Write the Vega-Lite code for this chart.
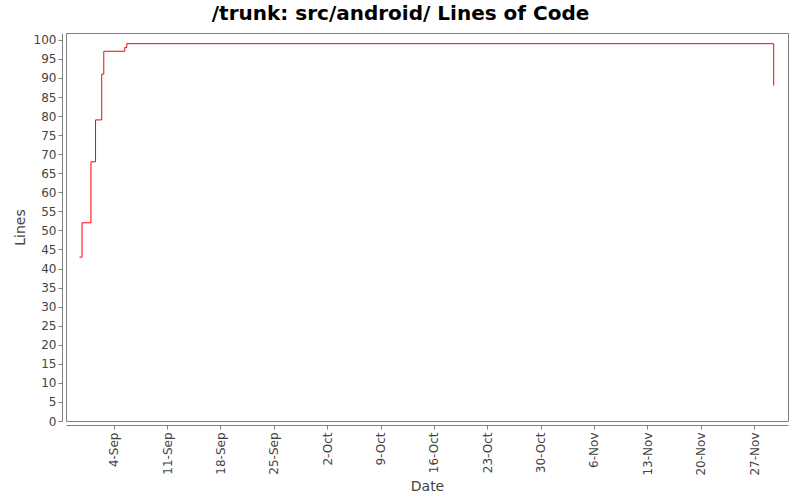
{
  "$schema": "https://vega.github.io/schema/vega-lite/v6.json",
  "width": 722,
  "height": 388,
  "autosize": {"type": "none"},
  "padding": {"left": 66, "top": 33, "right": 12, "bottom": 79},
  "background": "white",
  "title": {
    "text": "/trunk: src/android/ Lines of Code",
    "font": "DejaVu Sans",
    "fontSize": 20,
    "fontWeight": "bold",
    "color": "#000000",
    "anchor": "middle",
    "frame": "bounds",
    "offset": 9
  },
  "config": {
    "view": {"stroke": "#808080", "strokeWidth": 1},
    "axis": {
      "labelFont": "DejaVu Sans",
      "labelFontSize": 12,
      "labelColor": "#444444",
      "titleFont": "DejaVu Sans",
      "titleFontSize": 14,
      "titleFontWeight": "normal",
      "titleColor": "#444444",
      "domainColor": "#808080",
      "tickColor": "#808080",
      "grid": false,
      "offset": 4,
      "tickSize": 4
    }
  },
  "data": {
    "values": [
      {"date": "2011-08-30T12:00", "lines": 43},
      {"date": "2011-08-30T20:00", "lines": 52},
      {"date": "2011-09-01T00:00", "lines": 68},
      {"date": "2011-09-01T14:30", "lines": 79},
      {"date": "2011-09-02T10:00", "lines": 91},
      {"date": "2011-09-02T16:30", "lines": 97},
      {"date": "2011-09-05T10:40", "lines": 98},
      {"date": "2011-09-05T17:00", "lines": 99},
      {"date": "2011-11-29T14:00", "lines": 88}
    ]
  },
  "mark": {"type": "line", "interpolate": "step-after", "color": "#ff0000", "strokeWidth": 1},
  "encoding": {
    "x": {
      "field": "date",
      "type": "temporal",
      "title": "Date",
      "scale": {
        "domain": [
          {"year": 2011, "month": 8, "date": 28, "hours": 17, "minutes": 30},
          {"year": 2011, "month": 12, "date": 1, "hours": 11}
        ]
      },
      "axis": {
        "values": [
          {"year": 2011, "month": 9, "date": 4},
          {"year": 2011, "month": 9, "date": 11},
          {"year": 2011, "month": 9, "date": 18},
          {"year": 2011, "month": 9, "date": 25},
          {"year": 2011, "month": 10, "date": 2},
          {"year": 2011, "month": 10, "date": 9},
          {"year": 2011, "month": 10, "date": 16},
          {"year": 2011, "month": 10, "date": 23},
          {"year": 2011, "month": 10, "date": 30},
          {"year": 2011, "month": 11, "date": 6},
          {"year": 2011, "month": 11, "date": 13},
          {"year": 2011, "month": 11, "date": 20},
          {"year": 2011, "month": 11, "date": 27}
        ],
        "format": "%-d-%b",
        "labelAngle": -90,
        "labelPadding": 3,
        "titlePadding": 4
      }
    },
    "y": {
      "field": "lines",
      "type": "quantitative",
      "title": "Lines",
      "scale": {"domain": [0, 101.8], "nice": false},
      "axis": {
        "values": [0, 5, 10, 15, 20, 25, 30, 35, 40, 45, 50, 55, 60, 65, 70, 75, 80, 85, 90, 95, 100],
        "labelPadding": 2,
        "titlePadding": 6
      }
    }
  }
}
